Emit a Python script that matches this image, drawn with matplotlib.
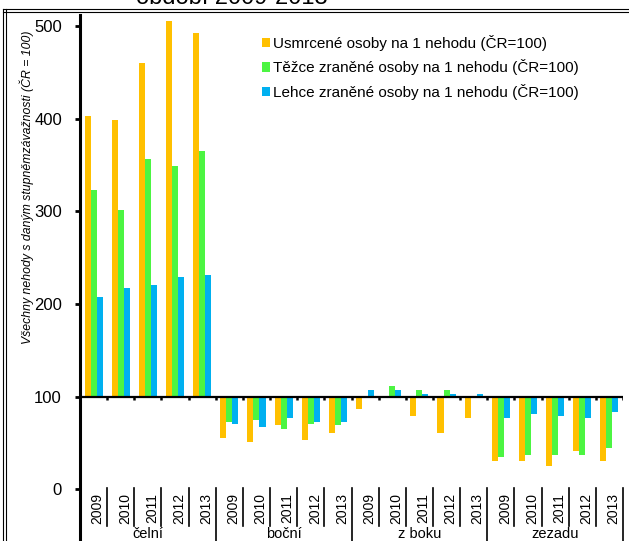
import matplotlib
matplotlib.use("Agg")
import matplotlib.pyplot as plt
from matplotlib.lines import Line2D
from matplotlib.patches import Patch
import numpy as np

plt.rcParams['font.family'] = ['Liberation Sans', 'DejaVu Sans']

groups = ["čelní", "boční", "z boku", "zezadu"]
years = ["2009", "2010", "2011", "2012", "2013"]

usmrcene = [403, 399, 460, 505, 492,
            55, 51, 69, 53, 61,
            87, 100, 79, 61, 77,
            31, 31, 25, 41, 31]
tezce = [323, 301, 356, 349, 365,
         73, 75, 65, 71, 69,
         100, 111, 107, 107, 100,
         35, 37, 37, 37, 45]
lehce = [207, 217, 221, 229, 231,
         71, 67, 77, 73, 73,
         107, 107, 103, 103, 103,
         77, 81, 79, 77, 83]

series_names = ["Usmrcené osoby na 1 nehodu (ČR=100)",
                "Těžce zraněné osoby na 1 nehodu (ČR=100)",
                "Lehce zraněné osoby na 1 nehodu (ČR=100)"]
colors = ["#FFC000", "#4CF542", "#00B0F0"]
baseline = 100

W, H = 629, 541
fig = plt.figure(figsize=(W / 100, H / 100), dpi=100)

# axes geometry in pixels
ax_left, ax_right = 80, 623
ax_top, ax_bottom = 15, 541
ax = fig.add_axes([ax_left / W, (H - ax_bottom) / H,
                   (ax_right - ax_left) / W, (ax_bottom - ax_top) / H])

px_per_unit = 0.9266
y0_px = 489.3
ymin = (y0_px - ax_bottom) / px_per_unit
ymax = (y0_px - ax_top) / px_per_unit

n = len(usmrcene)
x = np.arange(n) + 0.5
bw = 1 / 4.5
for k, (vals, c) in enumerate(zip([usmrcene, tezce, lehce], colors)):
    v = np.array(vals, dtype=float)
    ax.bar(x + (k - 1) * bw, v - baseline, bottom=baseline, width=bw,
           color=c, linewidth=0, zorder=2)

ax.set_xlim(0, n)
ax.set_ylim(ymin, ymax)

# spines
for s in ["top", "right", "bottom"]:
    ax.spines[s].set_visible(False)
ax.spines["left"].set_linewidth(2.2)
ax.set_yticks([0, 100, 200, 300, 400, 500])
ax.tick_params(axis="y", direction="out", length=3.5, width=2, labelsize=12, pad=9.5)
ax.set_xticks([])

# baseline axis at 100
ax.axhline(baseline, color="black", lw=1.6, zorder=3)
tick_len = 3.5 / px_per_unit
for b in range(1, n + 1):
    ax.plot([b, b], [baseline, baseline - tick_len], color="black", lw=1.8,
            zorder=3, solid_capstyle="butt")

# year labels and separators
year_y = (y0_px - 508) / px_per_unit
sep_top = (y0_px - 488) / px_per_unit
sep_bot = (y0_px - 526) / px_per_unit
for i in range(n):
    ax.text(x[i] + 0.15, year_y, years[i % len(years)], rotation=90,
            ha="center", va="center", fontsize=10, clip_on=False)
for b in range(1, n + 1):
    if b % len(years) == 0:
        ax.plot([b, b], [sep_top, ymin], color="black", lw=1.2, clip_on=False)
    else:
        ax.plot([b, b], [sep_top, sep_bot], color="black", lw=1.2, clip_on=False)

grp_y = (y0_px - 540.5) / px_per_unit
for g, name in enumerate(groups):
    ax.text(g * len(years) + len(years) / 2, grp_y, name, ha="center", va="bottom",
            fontsize=10.5, clip_on=False)

# y label
fig.text(27 / W, 1 - 187 / H,
         "Všechny nehody s daným stupněmzávažnosti (ČR = 100)",
         rotation=90, ha="center", va="center", fontsize=8.8, style="italic")

# title (partially cut off at top, as in the reference)
fig.text(232 / W, 1 - 4 / H, "období 2009-2013", ha="center", va="baseline",
         fontsize=17)

# legend
handles = [Patch(facecolor=c, edgecolor="none") for c in colors]
leg = fig.legend(handles, series_names, loc="upper left",
                 bbox_to_anchor=(262 / W, 1 - 35 / H), frameon=False,
                 fontsize=11, handlelength=0.55, handleheight=0.55,
                 handletextpad=0.15, labelspacing=0.55, borderaxespad=0,
                 borderpad=0)

# double frame
for yy in (9.3, 11.7):
    fig.add_artist(Line2D([2.5 / W, 1.0], [1 - yy / H, 1 - yy / H],
                          transform=fig.transFigure, color="black", lw=0.8))
for xx in (2.5, 5.5):
    fig.add_artist(Line2D([xx / W, xx / W], [0, 1 - 9.3 / H],
                          transform=fig.transFigure, color="black", lw=0.8))

fig.savefig("out.png", dpi=100)
